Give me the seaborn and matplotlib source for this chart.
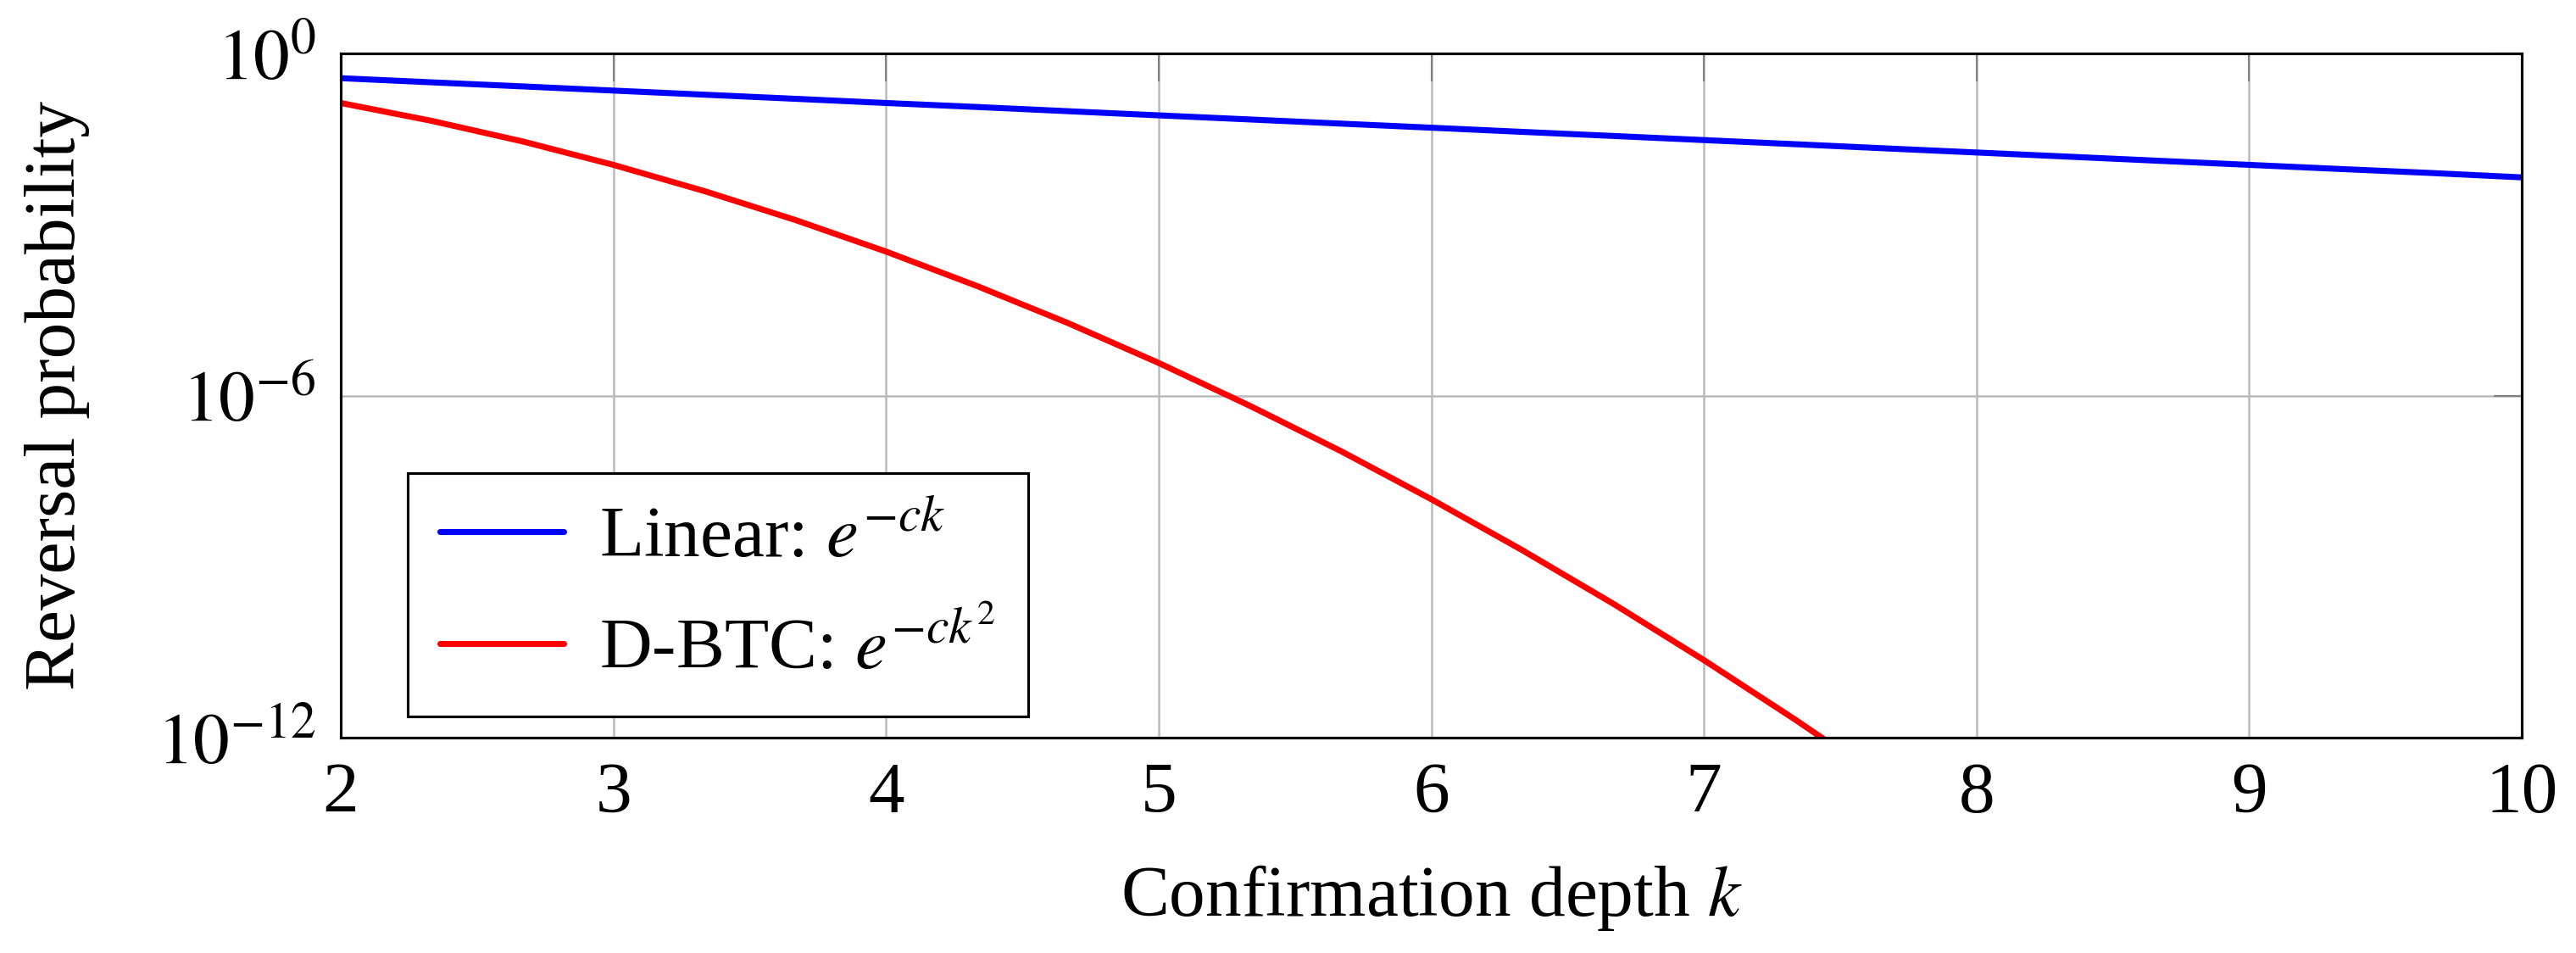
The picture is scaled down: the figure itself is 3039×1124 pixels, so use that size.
import matplotlib
matplotlib.use("Agg")
import matplotlib.pyplot as plt
import matplotlib.ticker as ticker
import numpy as np
import pandas as pd
import seaborn as sns

sns.set_style("white")
plt.rcParams['font.family'] = ['Liberation Serif', 'DejaVu Serif']
plt.rcParams['mathtext.fontset'] = 'stix'
plt.rcParams['text.color'] = 'black'
plt.rcParams['axes.labelcolor'] = 'black'

# confirmation depth k (sampled every 1/3, as in the source plot)
k_values = [2.0, 2.333, 2.667, 3.0, 3.333, 3.667, 4.0, 4.333, 4.667, 5.0,
            5.333, 5.667, 6.0, 6.333, 6.667, 7.0, 7.333, 7.667, 8.0, 8.333,
            8.667, 9.0, 9.333, 9.667, 10.0]

# reversal probability, linear decay
linear_prob = [0.368, 0.311, 0.264, 0.223, 0.189, 0.160, 0.135, 0.115, 0.097,
               0.082, 0.0695, 0.0588, 0.0498, 0.0421, 0.0357, 0.0302, 0.0256,
               0.0216, 0.0183, 0.0155, 0.0131, 0.0111, 0.0094, 0.0080, 0.0067]

# reversal probability, D-BTC (goes below the axis after k ~ 7.4)
dbtc_k = k_values[:18]
dbtc_prob = [0.135, 0.0657, 0.0286, 0.0111, 3.86e-3, 1.20e-3, 3.35e-4, 8.36e-5,
             1.87e-5, 3.73e-6, 6.66e-7, 1.07e-7, 1.52e-8, 1.95e-9, 2.24e-10,
             2.29e-11, 2.10e-12, 1.73e-13]

labels = [r'Linear: $e^{-ck}$', r'D-BTC: $e^{-ck^2}$']
colors = ['#0000ff', '#ff0000']
y_ticks = [1e-12, 1e-6, 1e0]
x_ticks = [2, 3, 4, 5, 6, 7, 8, 9, 10]

df = pd.concat([
    pd.DataFrame({'k': k_values, 'p': linear_prob, 'curve': labels[0]}),
    pd.DataFrame({'k': dbtc_k, 'p': dbtc_prob, 'curve': labels[1]}),
])

fig = plt.figure(figsize=(3039 / 300, 1124 / 300), dpi=300)
ax = fig.add_axes([402 / 3039, 1 - 870 / 1124, (2975 - 402) / 3039, (870 - 63) / 1124])

sns.lineplot(data=df, x='k', y='p', hue='curve', palette=colors, ax=ax,
             linewidth=1.7, legend=True)

ax.set_yscale('log')
ax.set_xlim(2, 10)
ax.set_ylim(1e-12, 1e0)
ax.set_xticks(x_ticks)
ax.set_yticks(y_ticks)
ax.yaxis.set_minor_locator(ticker.NullLocator())
ax.yaxis.set_major_formatter(ticker.FuncFormatter(
    lambda v, pos: r'$10^{%d}$' % int(round(np.log10(v)))))

ax.grid(True, color='#bababa', linewidth=0.6)
ax.set_axisbelow(True)
for sp in ax.spines.values():
    sp.set_color('black')
    sp.set_linewidth(0.75)
ax.tick_params(which='major', direction='in', length=8, width=0.5,
               color='#808080', top=True, right=True, labelsize=20.5, pad=7,
               labelcolor='black')

ax.set_xlabel(r'Confirmation depth $k$', fontsize=20.5, labelpad=10)
ax.set_ylabel('Reversal probability', fontsize=20.5, labelpad=19)

leg = ax.legend(loc='lower left', bbox_to_anchor=(0.0307, 0.031),
                borderaxespad=0, fontsize=20.5, frameon=True, fancybox=False,
                framealpha=1, edgecolor='black', handlelength=1.7,
                handletextpad=0.5, labelspacing=0.55, borderpad=0.45, title=None)
leg.get_frame().set_linewidth(0.75)
for t in leg.get_texts():
    t.set_color('black')

fig.savefig('out.png', dpi=300)
